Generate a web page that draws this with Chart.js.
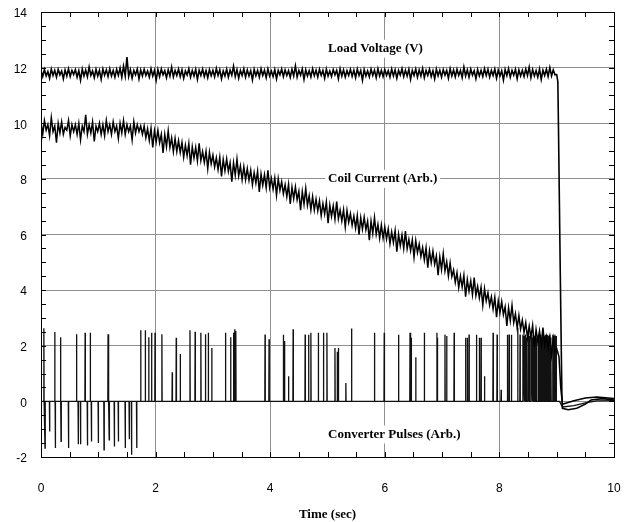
<!DOCTYPE html>
<html>
<head>
<meta charset="utf-8">
<script src="https://cdn.jsdelivr.net/npm/chart.js@4.4.1/dist/chart.umd.min.js"></script>
<style>
html,body{margin:0;padding:0;background:#fff;}
#wrap{width:624px;height:522px;}
</style>
</head>
<body>
<div id="wrap"><canvas id="c" width="624" height="522"></canvas></div>
<script>
// ---- data ----
const SAMPLE_DT = 0.03; // seconds between recorded samples

const loadVoltage = [
11.9,11.68,11.93,11.7,11.86,11.62,11.95,11.72,11.9,11.66,11.94,11.74,11.88,11.6,11.92,11.7,11.96,11.68,11.9,11.75,
11.93,11.66,11.89,11.55,11.95,11.7,11.91,11.67,12.02,11.72,11.88,11.64,11.94,11.7,11.9,11.58,11.95,11.73,11.92,11.68,
11.96,11.7,11.9,11.66,11.94,11.72,11.98,11.65,12.05,11.7,12.38,11.68,11.93,11.62,11.9,11.74,11.95,11.6,11.92,11.7,
11.94,11.72,11.88,11.66,11.96,11.7,11.9,11.55,11.93,11.68,11.95,11.74,11.89,11.64,11.92,11.7,12.02,11.67,11.9,11.72,
11.95,11.68,11.92,11.62,11.88,11.73,11.96,11.66,11.9,11.7,11.94,11.58,11.91,11.72,11.95,11.68,11.89,11.64,11.93,11.71,
11.9,11.67,11.97,11.72,11.92,11.6,11.88,11.7,11.95,11.66,11.91,11.73,12.05,11.68,11.93,11.62,11.9,11.72,11.96,11.66,
11.92,11.7,11.89,11.56,11.94,11.71,11.9,11.66,11.96,11.72,11.91,11.64,11.95,11.7,11.88,11.68,11.93,11.6,11.9,11.74,
11.95,11.68,11.92,11.72,11.89,11.65,11.94,11.7,12.06,11.66,11.9,11.73,11.95,11.58,11.92,11.7,11.89,11.67,11.96,11.71,
11.91,11.66,11.94,11.72,11.9,11.62,11.95,11.7,11.88,11.68,11.93,11.74,11.9,11.6,11.96,11.7,11.92,11.66,11.89,11.72,
11.94,11.69,11.91,11.64,11.95,11.72,11.9,11.55,11.93,11.7,11.88,11.67,11.95,11.72,11.91,11.64,11.96,11.7,11.9,11.68,
11.93,11.72,11.89,11.66,11.95,11.7,11.92,11.62,11.9,11.73,11.96,11.68,11.91,11.7,11.94,11.58,11.9,11.72,11.95,11.66,
11.92,11.7,11.97,11.64,11.9,11.72,11.94,11.68,11.89,11.6,11.95,11.71,11.91,11.66,11.93,11.73,11.9,11.62,11.96,11.7,
11.91,11.67,11.94,11.72,11.9,11.64,12.02,11.7,11.92,11.66,11.95,11.73,11.89,11.6,11.93,11.7,11.9,11.68,11.96,11.72,
11.94,11.66,11.9,11.72,11.95,11.62,11.91,11.7,11.89,11.55,11.93,11.71,11.96,11.66,11.9,11.73,11.94,11.6,11.92,11.7,
11.9,11.68,11.95,11.72,12.02,11.64,11.93,11.7,11.89,11.66,11.95,11.58,11.91,11.72,11.94,11.68,12.0,11.7,11.92,11.74
];
const voltTailX = [9.0, 9.02, 9.03, 9.06, 9.09, 9.1, 9.2, 9.35, 9.5, 9.6, 9.8, 10.0];
const voltTailY = [11.75, 11.5, 10.0, 5.0, 0.3, -0.25, -0.3, -0.25, -0.1, 0.05, 0.1, 0.05];

const coilCurrent = [
10.05,9.6,10.1,9.75,9.95,9.55,10.2,9.7,9.9,9.3,10.0,9.65,10.05,9.6,9.85,9.75,10.1,9.55,9.95,9.7,
9.95,9.6,10.0,9.4,9.9,9.7,10.3,9.6,9.95,9.65,10.05,9.35,9.9,9.7,10.0,9.6,9.95,9.55,10.1,9.7,
9.95,9.6,10.05,9.7,9.9,9.45,10.0,9.65,10.1,9.6,9.95,9.7,9.9,9.4,10.05,9.65,9.95,9.7,9.9,9.6,
9.9,9.48,9.8,9.38,9.82,9.13,9.73,9.33,9.75,9.3,9.6,8.93,9.6,9.16,9.73,9.13,9.47,8.98,9.45,8.98,
9.37,8.95,9.31,8.78,9.21,8.84,9.27,8.51,9.15,8.75,9.13,8.65,9.28,8.66,8.98,8.59,8.99,8.37,8.96,8.54,
8.85,8.43,8.76,8.33,8.78,8.09,8.7,8.29,8.72,8.27,8.58,7.9,8.58,8.14,8.71,8.11,8.46,7.97,8.44,7.97,
8.37,7.95,8.31,7.79,8.22,7.85,8.28,7.53,8.17,7.77,8.15,7.68,8.31,7.69,8.02,7.63,8.03,7.41,8.01,7.59,
7.9,7.47,7.79,7.36,7.8,7.1,7.7,7.29,7.71,7.25,7.55,6.87,7.54,7.09,7.66,7.05,7.39,6.89,7.36,6.88,
7.27,6.85,7.21,6.68,7.11,6.74,7.17,6.41,7.05,6.65,7.03,6.55,7.18,6.56,6.88,6.49,6.89,6.27,6.86,6.44,
6.75,6.33,6.66,6.23,6.68,5.99,6.6,6.19,6.62,6.17,6.48,5.8,6.48,6.04,6.61,6.01,6.36,5.87,6.34,5.87,
6.27,5.84,6.2,5.67,6.09,5.71,6.14,5.38,6.01,5.6,5.98,5.5,6.12,5.49,5.82,5.42,5.81,5.18,5.78,5.35,
5.65,5.21,5.53,5.09,5.52,4.81,5.41,4.99,5.4,4.93,5.23,4.54,5.2,4.74,5.31,4.69,5.02,4.51,4.98,4.49,
4.72,4.28,4.63,4.09,4.5,4.11,4.53,3.76,4.38,3.96,4.33,3.84,4.45,3.81,4.13,3.72,4.1,3.46,4.05,3.61,
3.9,3.46,3.76,3.32,3.74,3.03,3.61,3.19,3.59,3.12,3.4,2.71,3.36,2.9,3.45,2.83,3.15,2.64,3.09,2.6,
2.92,2.48,2.83,2.29,2.7,2.31,2.73,1.96,2.58,2.16,2.53,2.04,2.65,2.01,2.33,1.92,2.3,1.66,2.25,1.81
];
const coilTailX = [9.0, 9.04, 9.07, 9.1, 9.3, 9.5, 9.7, 9.85, 10.0];
const coilTailY = [1.9, 1.6, 0.5, -0.1, 0.02, 0.12, 0.16, 0.13, 0.1];

// converter pulses: spike times (s) and spike heights (arb.), baseline 0
const pulseX = [0.05,0.07,0.15,0.24,0.25,0.34,0.35,0.48,0.62,0.65,0.69,0.77,0.81,0.86,0.88,1.0,1.10,1.17,1.19,1.28,1.35,1.47,1.54,1.58,1.67,
1.74,1.82,1.88,1.93,1.99,2.11,2.29,2.36,2.43,2.60,2.69,2.79,2.87,2.92,2.98,3.22,3.31,3.36,3.38,3.40,3.91,3.98,4.23,4.25,4.32,4.40,
4.61,4.67,4.71,4.84,4.93,4.99,5.13,5.17,5.19,5.32,5.42,5.82,5.99,6.24,6.44,6.46,6.54,6.69,6.91,6.92,7.05,7.08,7.21,7.41,7.44,7.47,
7.60,7.65,7.68,7.74,7.89,7.96,8.03,8.14,8.17,8.21,8.32,8.36,8.41,8.43,8.45,8.47,8.50,8.52,8.55,8.57,8.59,8.61,8.63,8.65,8.68,8.70,
8.72,8.74,8.76,8.78,8.80,8.82,8.84,8.86,8.88,8.90,8.93,8.95,8.97,8.99];
const pulseH = [2.63,-1.68,-1.08,2.49,-1.68,2.31,-1.44,-1.68,2.41,-1.54,-1.54,2.47,-1.59,2.47,-1.44,-1.5,-1.74,2.41,-1.38,-1.62,-1.44,-1.68,-1.36,-1.92,-1.68,
2.56,2.56,2.31,2.47,2.47,2.41,1.05,2.29,1.7,2.56,2.5,2.47,2.41,2.47,1.92,2.47,2.31,2.47,2.59,2.53,2.4,2.23,2.4,2.17,0.9,2.59,
2.4,2.4,2.47,2.47,2.47,2.47,1.92,1.78,1.92,0.66,2.62,2.47,2.47,2.4,2.47,2.29,1.59,2.47,2.47,2.29,2.4,2.35,2.47,2.29,2.29,2.4,
2.4,2.29,2.29,0.9,2.47,2.4,0.42,2.4,2.4,2.4,2.65,2.4,2.4,2.35,2.4,2.3,2.47,2.35,2.4,2.3,2.4,2.35,2.47,2.3,2.4,2.35,
2.4,2.3,2.4,2.35,2.4,2.3,2.4,2.35,2.4,2.3,2.4,2.35,2.4,2.35];
const pulseEndX = 9.05;
const pulseTailX = [9.1, 9.3, 9.5, 9.7, 10.0];
const pulseTailY = [-0.2, -0.15, -0.05, 0.02, 0.03];

const xTickLabels = ['0','2','4','6','8','10'];
const yTickLabels = ['-2','0','2','4','6','8','10','12','14'];

const traceLabels = ['Load Voltage (V)', 'Coil Current (Arb.)', 'Converter Pulses (Arb.)'];
const traceLabelAt = [[5.01, 12.68], [5.01, 8.0], [5.01, -1.19]];

// ---- build datasets ----
function sampled(vals, tailX, tailY) {
  const pts = vals.map((v, i) => ({x: +(i * SAMPLE_DT).toFixed(3), y: v}));
  tailX.forEach((x, i) => pts.push({x: x, y: tailY[i]}));
  return pts;
}
const PULSE_HALF = 0.004;
function pulses() {
  const pts = [{x: 0, y: 0}];
  pulseX.forEach((x, i) => {
    pts.push({x: x - PULSE_HALF, y: 0});
    pts.push({x: x, y: pulseH[i]});
    pts.push({x: x + PULSE_HALF, y: 0});
  });
  pts.push({x: pulseEndX, y: 0});
  pulseTailX.forEach((x, i) => pts.push({x: x, y: pulseTailY[i]}));
  return pts;
}

const GRID = '#8f8f8f';
const TICKFONT = {family: '"Liberation Sans", Arial, sans-serif', size: 12};
const SERIF_B = 'bold 13px "Liberation Serif", "Times New Roman", serif';

const decor = {
  id: 'decor',
  afterDatasetsDraw(chart) {
    const ctx = chart.ctx, xs = chart.scales.x, ys = chart.scales.y;
    ctx.save();
    ctx.font = SERIF_B;
    ctx.textBaseline = 'middle';
    ctx.textAlign = 'left';
    traceLabels.forEach((t, i) => {
      const px = xs.getPixelForValue(traceLabelAt[i][0]);
      const py = ys.getPixelForValue(traceLabelAt[i][1]);
      const w = ctx.measureText(t).width;
      ctx.fillStyle = '#fff';
      ctx.fillRect(px - 3, py - 9, w + 6, 18);
      ctx.fillStyle = '#000';
      ctx.fillText(t, px, py);
    });
    ctx.restore();
  },
  afterDraw(chart) {
    const ctx = chart.ctx, a = chart.chartArea, xs = chart.scales.x, ys = chart.scales.y;
    ctx.save();
    ctx.strokeStyle = '#000';
    ctx.lineWidth = 1;
    ctx.beginPath();
    xs.ticks.forEach(t => {
      const p = Math.round(xs.getPixelForValue(t.value)) + 0.5;
      ctx.moveTo(p, a.bottom); ctx.lineTo(p, a.bottom - 5);
      ctx.moveTo(p, a.top); ctx.lineTo(p, a.top + 5);
    });
    ys.ticks.forEach(t => {
      const p = Math.round(ys.getPixelForValue(t.value)) + 0.5;
      ctx.moveTo(a.left, p); ctx.lineTo(a.left + 5, p);
      ctx.moveTo(a.right, p); ctx.lineTo(a.right - 5, p);
    });
    ctx.stroke();
    ctx.strokeRect(Math.round(a.left) + 0.5, Math.round(a.top) + 0.5,
                   Math.round(a.right - a.left), Math.round(a.bottom - a.top));
    ctx.restore();
  }
};

new Chart(document.getElementById('c'), {
  type: 'scatter',
  data: {
    datasets: [
      {label: 'Load Voltage (V)', data: sampled(loadVoltage, voltTailX, voltTailY), showLine: true,
       borderColor: '#000', borderWidth: 1.6, pointRadius: 0, tension: 0},
      {label: 'Coil Current (Arb.)', data: sampled(coilCurrent, coilTailX, coilTailY), showLine: true,
       borderColor: '#000', borderWidth: 1.5, pointRadius: 0, tension: 0},
      {label: 'Converter Pulses (Arb.)', data: pulses(), showLine: true,
       borderColor: '#111', borderWidth: 1.3, pointRadius: 0, tension: 0}
    ]
  },
  options: {
    responsive: false,
    animation: false,
    events: [],
    layout: {padding: {top: 12, right: 10, left: 0, bottom: 0}},
    plugins: {legend: {display: false}, tooltip: {enabled: false}},
    scales: {
      x: {
        type: 'linear', min: 0, max: 10,
        afterFit(s) { s.height = 65; s.paddingLeft = 0; s.paddingRight = 0; },
        grid: {drawTicks: false, color: c => (c.tick && c.tick.value % 2 === 0) ? GRID : 'rgba(0,0,0,0)'},
        border: {display: true, color: '#000'},
        ticks: {stepSize: 0.5, autoSkip: false, maxRotation: 0, padding: 24, color: '#000', font: TICKFONT,
          callback: v => (v % 2 === 0) ? xTickLabels[v / 2] : ''},
        title: {display: true, text: 'Time (sec)', color: '#000', padding: {top: 0, bottom: 0},
          font: {family: '"Liberation Serif", "Times New Roman", serif', size: 13, weight: 'bold'}}
      },
      y: {
        type: 'linear', min: -2, max: 14,
        afterFit(s) { s.width = 41; s.paddingTop = 0; s.paddingBottom = 0; },
        grid: {drawTicks: false, color: c => (c.tick && c.tick.value % 2 === 0) ? GRID : 'rgba(0,0,0,0)'},
        border: {display: true, color: '#000'},
        ticks: {stepSize: 0.5, autoSkip: false, padding: 14, labelOffset: 2, color: '#000', font: TICKFONT,
          callback: v => (v % 2 === 0) ? yTickLabels[(v + 2) / 2] : ''}
      }
    }
  },
  plugins: [decor]
});
</script>
</body>
</html>
